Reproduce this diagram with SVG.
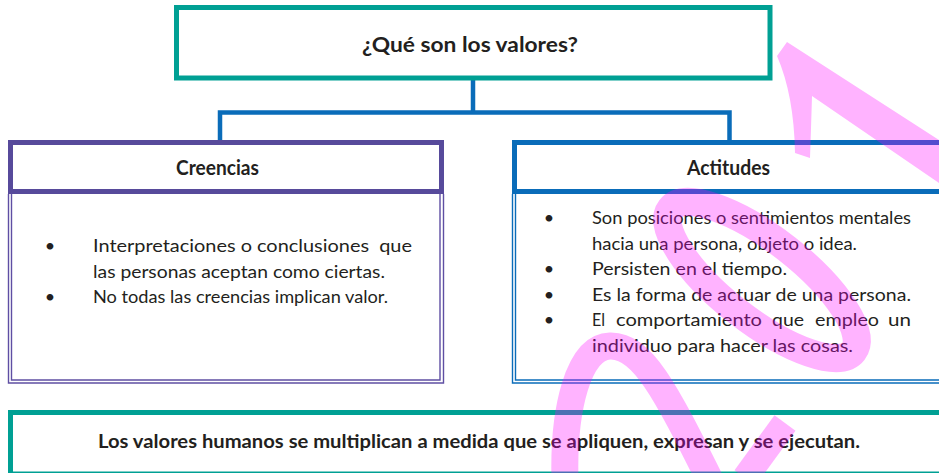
<svg xmlns="http://www.w3.org/2000/svg" width="939" height="473" viewBox="0 0 939 473">
<style>
.t{font-family:Lato,"Liberation Sans",sans-serif;fill:#231f20}
.b{font-weight:700}
.body{font-size:18px}
.teal{fill:none;stroke:#00a094;stroke-width:5}
.pur{fill:none;stroke:#574a9b;stroke-width:5}
.pur2{fill:none;stroke:#5f4fa3;stroke-width:1.4}
.blu{fill:none;stroke:#0a6cb9;stroke-width:5}
.blu2{fill:none;stroke:#0a6cb9;stroke-width:1.4}
</style>
<rect width="939" height="473" fill="#fff"/>
<g id="connectors">
<path d="M220,140 V112.5 H729.5 V140 M473,80 V112.5" fill="none" stroke="#0a6cb9" stroke-width="4.5"/>
</g>
<g id="node-title">
<rect class="teal" x="176.5" y="7.5" width="593.5" height="70.5"/>
<text class="t b" x="362" y="52" font-size="20" textLength="216" lengthAdjust="spacingAndGlyphs">¿Qué son los valores?</text>
</g>
<g id="node-creencias">
<rect class="pur" x="10.5" y="142.5" width="431" height="49"/>
<path class="pur2" d="M8.5,194 V383 H443.5 V194 M11.5,194 V380 H440 V194"/>
<text class="t b" x="176" y="175" font-size="20" textLength="83" lengthAdjust="spacingAndGlyphs">Creencias</text>
<g class="t body">
<text x="50" y="252" text-anchor="middle">•</text>
<text x="50" y="303" text-anchor="middle">•</text>
<text x="93" y="252" textLength="319" lengthAdjust="spacingAndGlyphs" xml:space="preserve">Interpretaciones o conclusiones  que</text>
<text x="93" y="277.5" textLength="292" lengthAdjust="spacingAndGlyphs">las personas aceptan como ciertas.</text>
<text x="93" y="303" textLength="295" lengthAdjust="spacingAndGlyphs">No todas las creencias implican valor.</text>
</g>
</g>
<g id="node-actitudes">
<rect class="blu" x="514.5" y="142.5" width="440" height="49"/>
<path class="blu2" d="M512.5,194 V383 H945 M515.5,194 V380 H945"/>
<text class="t b" x="687" y="174.5" font-size="20" textLength="83" lengthAdjust="spacingAndGlyphs">Actitudes</text>
<g class="t body">
<text x="549" y="224" text-anchor="middle">•</text>
<text x="549" y="275" text-anchor="middle">•</text>
<text x="549" y="300.5" text-anchor="middle">•</text>
<text x="549" y="326" text-anchor="middle">•</text>
<text x="592" y="224" textLength="319" lengthAdjust="spacingAndGlyphs">Son posiciones o sentimientos mentales</text>
<text x="592" y="249.5" textLength="265" lengthAdjust="spacingAndGlyphs">hacia una persona, objeto o idea.</text>
<text x="592" y="275" textLength="195" lengthAdjust="spacingAndGlyphs">Persisten en el tiempo.</text>
<text x="592" y="300.5" textLength="319" lengthAdjust="spacingAndGlyphs">Es la forma de actuar de una persona.</text>
<text x="592" y="326" textLength="13" lengthAdjust="spacingAndGlyphs">El</text>
<text x="616" y="326" textLength="146" lengthAdjust="spacingAndGlyphs">comportamiento</text>
<text x="772" y="326" textLength="32" lengthAdjust="spacingAndGlyphs">que</text>
<text x="815" y="326" textLength="64" lengthAdjust="spacingAndGlyphs">empleo</text>
<text x="888" y="326" textLength="23" lengthAdjust="spacingAndGlyphs">un</text>
<text x="592" y="351.5" textLength="261" lengthAdjust="spacingAndGlyphs">individuo para hacer las cosas.</text>
</g>
</g>
<g id="node-bottom">
<rect class="teal" x="10.5" y="412.5" width="940" height="61.5"/>
<text class="t b" x="98" y="448" font-size="18" textLength="762" lengthAdjust="spacingAndGlyphs">Los valores humanos se multiplican a medida que se apliquen, expresan y se ejecutan.</text>
</g>
<g id="watermark" opacity="0.3">
<path d="M777,56 L787,42 L939,140 L939,183 L812,96 Q811,130 810,158 L795,153 Q794,95 777,56 Z" fill="#ff00ff"/>
<ellipse cx="762" cy="280" rx="116" ry="40" transform="rotate(38 762 280)" fill="none" stroke="#ff00ff" stroke-width="28"/>
<path d="M565,480 C563,410 578,347 610,346 C642,345 665,390 710,480" fill="none" stroke="#ff00ff" stroke-width="27"/>
<path d="M785,423 L745,478" fill="none" stroke="#ff00ff" stroke-width="26"/>
</g>
</svg>
